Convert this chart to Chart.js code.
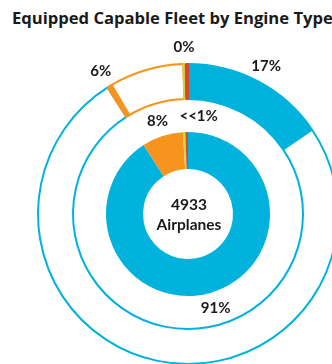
<!DOCTYPE html>
<html>
<head>
<meta charset="utf-8">
<script src="https://cdn.jsdelivr.net/npm/chart.js@4/dist/chart.umd.min.js"></script>
<style>
  html, body { margin: 0; padding: 0; background: #fff; overflow: hidden; width: 332px; height: 364px; }
  #titulo { position: absolute; left: 12px; top: 6px; line-height: 24px; white-space: nowrap; font-family: "Open Sans", sans-serif; font-weight: bold; font-size: 16.6px; color: #1a1a1a; }
  #grafico { position: absolute; left: 0; top: 0; }
</style>
</head>
<body>
<div id="titulo">Equipped Capable Fleet by Engine Type</div>
<canvas id="grafico" width="376" height="400"></canvas>
<script>
// inner ring: share of the fleet per engine type (%)
const fleetShare = [90.9, 8.1, 0.5, 0.5];
const fleetLabels = ['91%', '8%', '', '<<1%'];

// outer ring: each engine type split into equipped / not equipped (% of fleet)
const equippedShare = [15.5, 75.5, 0.5, 8.0, 0.25, 0.25];
const equippedLabels = ['17%', '', '6%', '', '0%', ''];

const centerLines = ['4933', 'Airplanes'];

const cyan = '#00b2dc';
const orange = '#f7941d';
const yellow = '#cfd83a';
const red = '#d9472b';
const textColor = '#1a1a1a';
const labelFont = 'bold 15px Lato, sans-serif';

const ringLabels = {
  id: 'ringLabels',
  afterDatasetsDraw(chart) {
    const ctx = chart.ctx;
    ctx.save();
    ctx.fillStyle = textColor;
    ctx.font = labelFont;
    ctx.textBaseline = 'middle';

    function drawLabels(datasetIndex, texts, gap) {
      const arcs = chart.getDatasetMeta(datasetIndex).data;
      arcs.forEach(function (arc, i) {
        if (!texts[i]) return;
        const p = arc.getProps(['x', 'y', 'startAngle', 'endAngle', 'outerRadius']);
        const ang = (p.startAngle + p.endAngle) / 2;
        const r = p.outerRadius + gap;
        let x = p.x + Math.cos(ang) * r;
        const y = p.y + Math.sin(ang) * r;
        ctx.textAlign = 'center';
        if (texts[i] === '<<1%') {
          // tiny slice, text pushed to the right of it
          ctx.textAlign = 'left';
          x -= 7;
        }
        ctx.fillText(texts[i], x, y);
      });
    }
    drawLabels(0, equippedLabels, 17);
    drawLabels(2, fleetLabels, 16);

    // center text
    const c = chart.getDatasetMeta(2).data[0];
    ctx.textAlign = 'center';
    ctx.font = 'bold 15.5px Lato, sans-serif';
    ctx.fillText(centerLines[0], c.x + 1, c.y - 9);
    ctx.fillText(centerLines[1], c.x + 1, c.y + 11);
    ctx.restore();
  }
};

const data = {
  datasets: [
    {
      data: equippedShare,
      backgroundColor: [cyan, '#ffffff', orange, '#ffffff', '#ffffff', red],
      borderColor: [cyan, cyan, orange, orange, yellow, red],
      borderWidth: 2,
      hoverBorderWidth: 2,
      weight: 35
    },
    {
      // empty gap between the two rings
      data: [1],
      backgroundColor: 'rgba(0,0,0,0)',
      borderWidth: 0,
      weight: 33
    },
    {
      data: fleetShare,
      backgroundColor: [cyan, orange, yellow, red],
      borderWidth: 0,
      weight: 37
    }
  ]
};

const config = {
  type: 'doughnut',
  data,
  options: {
    responsive: false,
    animation: false,
    events: [],
    cutout: '30%',
    hoverOffset: 0,
    layout: { padding: { left: 37, right: 37, top: 63, bottom: 35 } },
    plugins: {
      legend: { display: false },
      tooltip: { enabled: false },
      title: { display: false }
    }
  },
  plugins: [ringLabels]
};

const myChart = new Chart(document.getElementById('grafico'), config);
</script>
</body>
</html>
